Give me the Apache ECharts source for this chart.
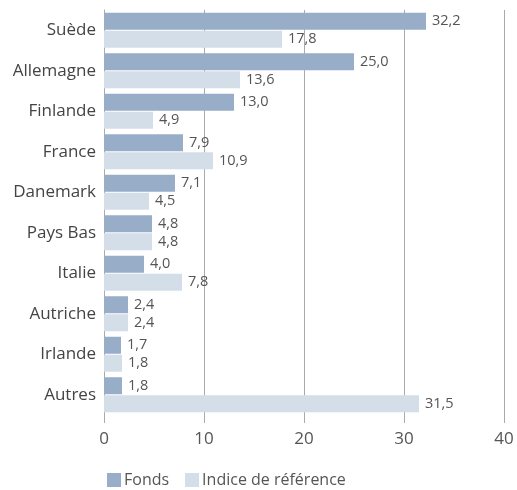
<!DOCTYPE html>
<html>
<head>
<meta charset="utf-8">
<script src="https://cdn.jsdelivr.net/npm/echarts@6/dist/echarts.min.js"></script>
<style>
  html, body { margin: 0; padding: 0; background: #fff; }
  #chart { width: 517px; height: 490px; }
</style>
</head>
<body>
<div id="chart"></div>
<script>
const categories = ['Suède', 'Allemagne', 'Finlande', 'France', 'Danemark', 'Pays Bas', 'Italie', 'Autriche', 'Irlande', 'Autres']
const fonds = [32.2, 25.0, 13.0, 7.9, 7.1, 4.8, 4.0, 2.4, 1.7, 1.8]
const indice = [17.8, 13.6, 4.9, 10.9, 4.5, 4.8, 7.8, 2.4, 1.8, 31.5]
const seriesNames = ['Fonds', 'Indice de référence']

const FONT = '"Open Sans", Lato, sans-serif'
const fmt = v => v.toFixed(1).replace('.', ',')

const chart = echarts.init(document.getElementById('chart'))

function barSeries(name, data, color) {
  return {
    name: name,
    type: 'bar',
    data: data,
    barWidth: 17,
    barGap: '6%',
    itemStyle: { color: color },
    label: {
      show: true,
      position: 'right',
      distance: 6,
      color: '#555',
      fontSize: 14.5,
      fontFamily: FONT,
      formatter: p => fmt(p.value)
    },
    animation: false
  }
}

chart.setOption({
  textStyle: { fontFamily: FONT },
  grid: { left: 104, right: 13, top: 10, bottom: 75, containLabel: false },
  legend: {
    data: seriesNames,
    left: 102,
    bottom: -3,
    itemWidth: 14,
    itemHeight: 14,
    itemGap: 16,
    icon: 'rect',
    textStyle: { color: '#555', fontSize: 16, fontFamily: FONT, padding: [0, 0, 0, -2] }
  },
  xAxis: {
    type: 'value',
    min: 0,
    max: 40,
    interval: 10,
    axisLine: { show: false },
    axisTick: { show: true, length: 8, lineStyle: { color: '#aaa' } },
    splitLine: { show: true, lineStyle: { color: '#aaa', width: 1 } },
    axisLabel: { color: '#555', fontSize: 17, fontFamily: FONT, margin: 16 }
  },
  yAxis: {
    type: 'category',
    data: categories,
    inverse: true,
    axisLine: { show: true, lineStyle: { color: '#aaa' } },
    axisTick: { show: false },
    axisLabel: { color: '#444', fontSize: 17, fontFamily: FONT, margin: 8 }
  },
  series: [
    barSeries(seriesNames[0], fonds, '#97adc8'),
    barSeries(seriesNames[1], indice, '#d4dee9')
  ]
})
</script>
</body>
</html>
